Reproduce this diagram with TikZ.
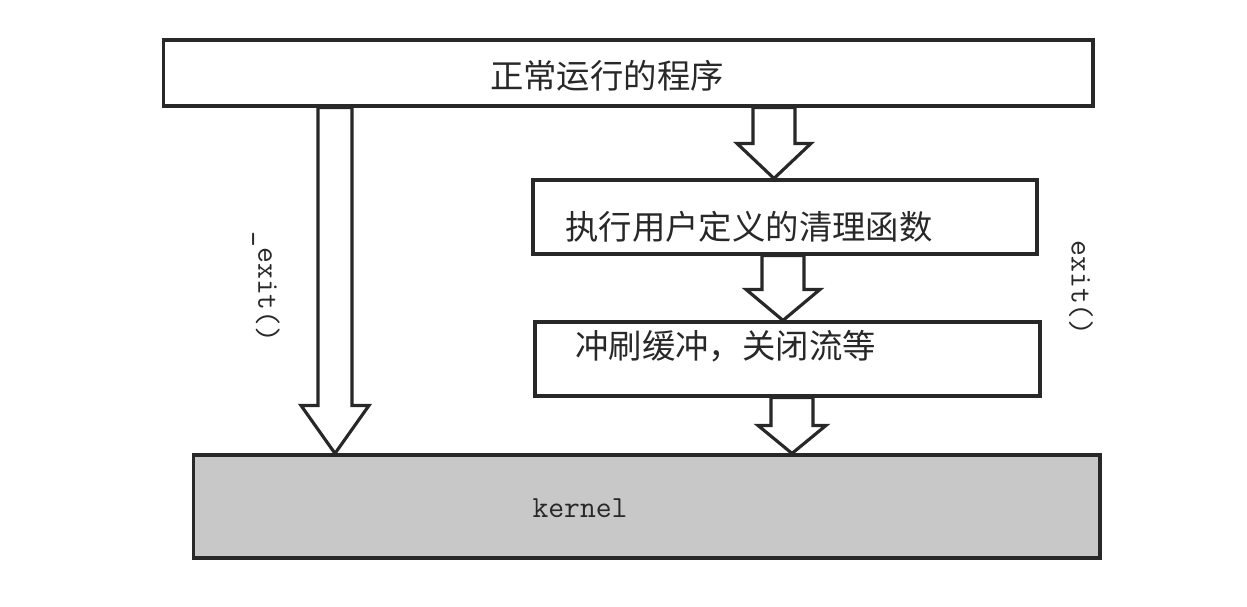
\documentclass[tikz,border=0pt]{standalone}
\usepackage{fontspec}
\newfontfamily\cjk{Noto Sans CJK SC}
\usetikzlibrary{calc}

\definecolor{kernelgray}{RGB}{200,200,200}
\definecolor{inkgray}{RGB}{40,40,40}

\tikzset{
  stagebox/.style={draw=inkgray, line width=1.8pt, rectangle, inner sep=0pt},
  cjklabel/.style={font=\cjk\fontsize{19}{22}\selectfont, text=inkgray, inner sep=0pt},
  codelabel/.style={font=\ttfamily\fontsize{17.5}{20}\selectfont, text=inkgray, inner sep=0pt},
  fatarrow/.style={draw=inkgray, line width=1.8pt, fill=white, line join=miter},
}

% block arrow: start, tip, shaft half width, head half width, head length
\newcommand{\blockarrow}[5]{%
  \draw[fatarrow] ($(#1)+(-#3,0)$) -- ($(#2)+(-#3,-#5)$) -- ($(#2)+(-#4,-#5)$) -- (#2)
    -- ($(#2)+(#4,-#5)$) -- ($(#2)+(#3,-#5)$) -- ($(#1)+(#3,0)$) -- cycle;}

\begin{document}
\begin{tikzpicture}[x=0.02cm, y=-0.02cm]
  \useasboundingbox (0,0) rectangle (1247,606);

  % boxes
  \node[stagebox, minimum width=18.6cm, minimum height=1.32cm] (program) at (628,73) {};
  \node[stagebox, minimum width=10.08cm, minimum height=1.48cm] (cleanup) at (785,217) {};
  \node[stagebox, minimum width=10.1cm, minimum height=1.48cm] (flush) at (787.5,359) {};
  \node[stagebox, fill=kernelgray, minimum width=18.14cm, minimum height=2.06cm] (kernel) at (646.5,506.5) {};

  % arrows
  \coordinate (exitTop) at (335,0 |- program.south);
  \coordinate (exitTip) at (335,0 |- kernel.north);
  \coordinate (cleanTop) at (774,0 |- program.south);
  \coordinate (cleanTip) at (774,0 |- cleanup.north);
  \coordinate (flushTop) at (783,0 |- cleanup.south);
  \coordinate (flushTip) at (783,0 |- flush.north);
  \coordinate (kernTop) at (792,0 |- flush.south);
  \coordinate (kernTip) at (792,0 |- kernel.north);
  \blockarrow{exitTop}{exitTip}{17}{34}{48}
  \blockarrow{cleanTop}{cleanTip}{21}{37}{35}
  \blockarrow{flushTop}{flushTip}{21}{37}{31}
  \blockarrow{kernTop}{kernTip}{21}{34}{28}

  % labels
  \node[cjklabel] (programText) at (607,76) {正常运行的程序};
  \node[cjklabel, anchor=west] (cleanupText) at (565,227) {执行用户定义的清理函数};
  \node[cjklabel, anchor=west] (flushText) at (575,346) {冲刷缓冲，关闭流等};
  \node[codelabel] (kernelText) at (580,508) {kernel};
  \node[codelabel, rotate=-90] (exitLeft) at (266,287) {\_exit()};
  \node[codelabel, rotate=-90] (exitRight) at (1081,288) {exit()};
\end{tikzpicture}
\end{document}
